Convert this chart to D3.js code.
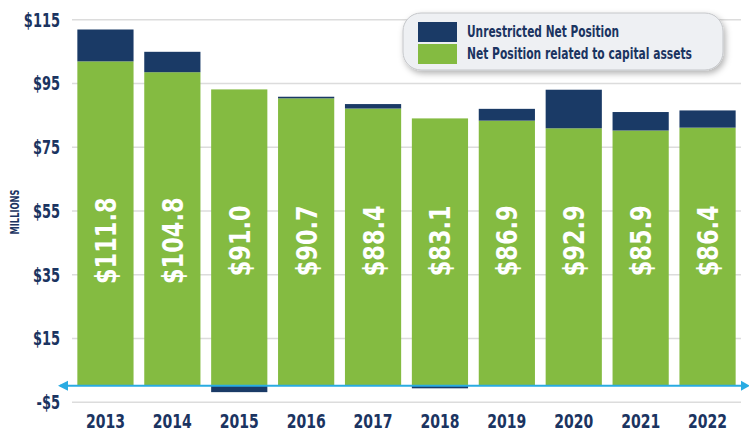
<!DOCTYPE html>
<html>
<head>
<meta charset="utf-8">
<script src="https://cdn.jsdelivr.net/npm/d3@7"></script>
<style>
  html, body { margin: 0; padding: 0; background: #ffffff; }
  svg { display: block; }
</style>
</head>
<body>
<svg id="chart" width="749" height="433"></svg>
<script>
const years = ["2013","2014","2015","2016","2017","2018","2019","2020","2021","2022"];
const capitalAssets = [101.8, 98.4, 93.0, 90.2, 87.0, 83.9, 83.2, 80.8, 80.1, 81.0];
const unrestricted = [10.0, 6.4, -2.0, 0.5, 1.4, -0.8, 3.7, 12.1, 5.8, 5.4];
const totalLabels = ["$111.8","$104.8","$91.0","$90.7","$88.4","$83.1","$86.9","$92.9","$85.9","$86.4"];
const yTicks = [-5, 15, 35, 55, 75, 95, 115];
const legendLabels = ["Unrestricted Net Position", "Net Position related to capital assets"];

const navy = "#1a3a66";
const green = "#84bb41";
const textNavy = "#1b3461";
const lineBlue = "#29abe2";
const font = "'DejaVu Sans Condensed', 'DejaVu Sans', sans-serif";

const svg = d3.select("#chart");

// squeeze text horizontally to mimic a narrow display face
function squeeze(sel, factor) {
  sel.each(function () {
    const w = this.getComputedTextLength();
    d3.select(this).attr("textLength", w * factor).attr("lengthAdjust", "spacingAndGlyphs");
  });
}

const defs = svg.append("defs");
const f = defs.append("filter").attr("id", "shadow").attr("x", "-10%").attr("y", "-20%").attr("width", "130%").attr("height", "160%");
f.append("feDropShadow").attr("dx", 2).attr("dy", 3).attr("stdDeviation", 3).attr("flood-color", "#000").attr("flood-opacity", 0.3);

const x = d3.scaleBand().domain(years).range([72, 741]).paddingInner(0.16).paddingOuter(0.08);
const y = d3.scaleLinear().domain([-5, 115]).range([401.7, 19.3]);

// gridlines + tick labels
const yAxis = d3.axisLeft(y).tickValues(yTicks).tickSize(-(741 - 72))
  .tickFormat(d => (d < 0 ? "-$" + Math.abs(d) : "$" + d));
const gy = svg.append("g").attr("transform", "translate(72,0)").call(yAxis);
gy.select(".domain").remove();
gy.selectAll(".tick line").attr("stroke", "#dcdcdc").attr("stroke-width", 1.5);
gy.selectAll(".tick text")
  .attr("x", -12).attr("dy", "0.36em")
  .attr("fill", textNavy).attr("font-family", font).attr("font-weight", "bold").attr("font-size", 19)
  .call(squeeze, 0.76);

// legend
const lg = svg.append("g");
lg.append("rect").attr("x", 403).attr("y", 13).attr("width", 320).attr("height", 57).attr("rx", 18)
  .attr("fill", "#eef0f3").attr("stroke", "#c4c6c9").attr("stroke-width", 1).attr("filter", "url(#shadow)");
const legendColors = [navy, green];
const legendWidths = [152, 225];
legendLabels.forEach((t, i) => {
  lg.append("rect").attr("x", 418).attr("y", 22 + i * 22).attr("width", 39).attr("height", 20).attr("fill", legendColors[i]);
  lg.append("text").attr("x", 467).attr("y", 32 + i * 22).attr("dy", "0.36em")
    .attr("fill", textNavy).attr("font-family", font).attr("font-weight", "bold").attr("font-size", 15)
    .attr("textLength", legendWidths[i]).attr("lengthAdjust", "spacingAndGlyphs").text(t);
});

// bars
const data = years.map((yr, i) => ({ yr, cap: capitalAssets[i], unr: unrestricted[i], label: totalLabels[i] }));
const bars = svg.append("g");
bars.selectAll("rect.cap").data(data).join("rect").attr("class", "cap")
  .attr("x", d => x(d.yr)).attr("width", x.bandwidth())
  .attr("y", d => y(d.cap)).attr("height", d => y(0) - y(d.cap))
  .attr("fill", green);
bars.selectAll("rect.unr").data(data).join("rect").attr("class", "unr")
  .attr("x", d => x(d.yr)).attr("width", x.bandwidth())
  .attr("y", d => d.unr >= 0 ? y(d.cap + d.unr) : y(0))
  .attr("height", d => Math.abs(y(d.unr) - y(0)))
  .attr("fill", navy);

// baseline with arrows
const y0 = y(0);
svg.append("line").attr("x1", 60).attr("x2", 745).attr("y1", y0).attr("y2", y0)
  .attr("stroke", lineBlue).attr("stroke-width", 2.2);
svg.append("path").attr("d", `M58,${y0} L68,${y0 - 5} L68,${y0 + 5} Z`).attr("fill", lineBlue);
svg.append("path").attr("d", `M750,${y0} L741,${y0 - 5} L741,${y0 + 5} Z`).attr("fill", lineBlue);

// value labels
svg.append("g").selectAll("text").data(data).join("text")
  .attr("transform", d => `translate(${x(d.yr) + x.bandwidth() / 2},${y(45.5)}) rotate(-90)`)
  .attr("text-anchor", "middle").attr("dy", "0.36em")
  .attr("fill", "#ffffff").attr("font-family", font).attr("font-weight", "bold").attr("font-size", 29)
  .text(d => d.label)
  .call(squeeze, 0.86);

// x axis labels
const xAxis = d3.axisBottom(x).tickSize(0);
const gx = svg.append("g").attr("transform", "translate(0,408)").call(xAxis);
gx.select(".domain").remove();
gx.selectAll(".tick text").attr("fill", textNavy).attr("font-family", font)
  .attr("font-weight", "bold").attr("font-size", 19).attr("dy", "0.9em")
  .call(squeeze, 0.82);

// y axis title
svg.append("text").attr("transform", `translate(15,212) rotate(-90)`)
  .attr("text-anchor", "middle").attr("dy", "0.36em")
  .attr("fill", textNavy).attr("font-family", font).attr("font-weight", "bold").attr("font-size", 12)
  .attr("textLength", 45).attr("lengthAdjust", "spacingAndGlyphs")
  .text("MILLIONS");
</script>
</body>
</html>
